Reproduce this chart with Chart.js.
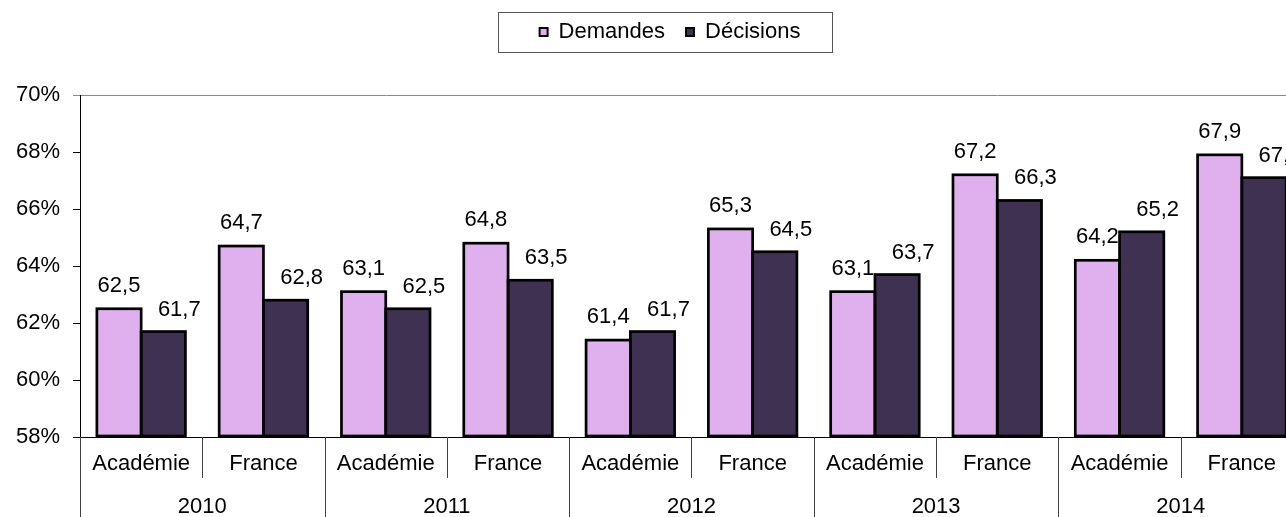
<!DOCTYPE html>
<html>
<head>
<meta charset="utf-8">
<script src="https://cdn.jsdelivr.net/npm/chart.js@4/dist/chart.umd.min.js"></script>
<style>
  html, body { margin: 0; padding: 0; background: #fff; overflow: hidden; }
  #wrap { width: 1340px; height: 517px; }
</style>
</head>
<body>
<div id="wrap"><canvas id="myChart" width="1340" height="517"></canvas></div>
<script>
const subLabels  = ['Académie', 'France', 'Académie', 'France', 'Académie', 'France', 'Académie', 'France', 'Académie', 'France'];
const yearLabels = ['2010', '2011', '2012', '2013', '2014'];
const demandes   = [62.5, 64.7, 63.1, 64.8, 61.4, 65.3, 63.1, 67.2, 64.2, 67.9];
const decisions  = [61.7, 62.8, 62.5, 63.5, 61.7, 64.5, 63.7, 66.3, 65.2, 67.1];

const FONT = '"Liberation Sans", Arial, sans-serif';
const pink = 'rgb(223,175,238)';
const dark = 'rgb(63,49,82)';

// value labels above bars, comma decimal like the original
const valueLabels = {
  id: 'valueLabels',
  afterDatasetsDraw(chart) {
    const ctx = chart.ctx;
    ctx.save();
    ctx.font = '22px ' + FONT;
    ctx.fillStyle = '#000';
    ctx.textAlign = 'center';
    ctx.textBaseline = 'alphabetic';
    chart.data.datasets.forEach((ds, di) => {
      const meta = chart.getDatasetMeta(di);
      const dx = di === 0 ? 0 : 16;
      const gap = di === 0 ? 17 : 16;
      meta.data.forEach((bar, i) => {
        const txt = ds.data[i].toFixed(1).replace('.', ',');
        ctx.fillText(txt, bar.x + dx, bar.y - gap);
      });
    });
    ctx.restore();
  }
};

// heavy outline around each bar (Excel style, shared middle edge)
const barOutline = {
  id: 'barOutline',
  afterDatasetsDraw(chart) {
    const ctx = chart.ctx;
    const bottom = chart.chartArea.bottom;
    ctx.save();
    ctx.strokeStyle = '#000';
    ctx.lineWidth = 2.7;
    chart.data.datasets.forEach((ds, di) => {
      chart.getDatasetMeta(di).data.forEach(bar => {
        const p = bar.getProps(['x', 'y', 'width'], true);
        ctx.strokeRect(p.x - p.width / 2, p.y, p.width, bottom - 1 - p.y);
      });
    });
    ctx.restore();
  }
};

// category separators under the axis + legend frame
const frames = {
  id: 'frames',
  afterDraw(chart) {
    const ctx = chart.ctx;
    const x = chart.scales.x;
    const bottom = chart.chartArea.bottom;
    const n = subLabels.length;
    const w = x.getPixelForValue(1) - x.getPixelForValue(0);
    ctx.save();
    ctx.strokeStyle = '#444';
    ctx.lineWidth = 1;
    for (let i = 0; i <= n; i++) {
      const xb = Math.round(x.getPixelForValue(0) - w / 2 + i * w) + 0.5;
      ctx.beginPath();
      ctx.moveTo(xb, bottom);
      ctx.lineTo(xb, i % 2 === 0 ? chart.height : bottom + 41);
      ctx.stroke();
    }
    const boxes = chart.legend.legendHitBoxes;
    if (boxes && boxes.length) {
      const first = boxes[0];
      const last = boxes[boxes.length - 1];
      const l = first.left - 42;
      const r = last.left + last.width + 31;
      ctx.strokeStyle = '#555';
      ctx.strokeRect(Math.round(l) + 0.5, 12.5, Math.round(r - l), 40);
    }
    ctx.restore();
  }
};

const ctx = document.getElementById('myChart');
new Chart(ctx, {
  type: 'bar',
  data: {
    labels: subLabels,
    datasets: [{
      label: 'Demandes',
      data: demandes,
      backgroundColor: pink,
      borderWidth: 0
    }, {
      label: 'Décisions',
      data: decisions,
      backgroundColor: dark,
      borderWidth: 0
    }]
  },
  options: {
    responsive: false,
    animation: false,
    categoryPercentage: 0.724,
    barPercentage: 1,
    layout: { padding: 0 },
    plugins: {
      tooltip: { enabled: false },
      legend: {
        position: 'top',
        labels: {
          boxWidth: 8,
          boxHeight: 8,
          padding: 21,
          color: '#000',
          font: { family: FONT, size: 22 },
          generateLabels: chart => chart.data.datasets.map((ds, i) => ({
            text: ds.label,
            fillStyle: ds.backgroundColor,
            strokeStyle: '#000',
            lineWidth: 2,
            datasetIndex: i
          }))
        }
      },
      subtitle: {
        display: true,
        text: '',
        weight: 500,
        font: { size: 10 },
        padding: { top: 30, bottom: 0 }
      }
    },
    scales: {
      x: {
        weight: 0,
        offset: true,
        grid: { display: false, drawTicks: false },
        border: { display: true, color: '#000', width: 1 },
        ticks: {
          color: '#000',
          font: { family: FONT, size: 22 },
          padding: 14,
          maxRotation: 0,
          autoSkip: false
        },
        afterFit: s => { s.height = 41; }
      },
      x2: {
        type: 'category',
        labels: yearLabels,
        position: 'bottom',
        weight: 1,
        offset: true,
        grid: { display: false, drawTicks: false },
        border: { display: false },
        ticks: {
          color: '#000',
          font: { family: FONT, size: 22 },
          padding: 16,
          maxRotation: 0
        },
        afterFit: s => { s.height = 39; }
      },
      y: {
        min: 58,
        max: 70,
        ticks: {
          stepSize: 2,
          color: '#000',
          padding: 13,
          font: { family: FONT, size: 22 },
          callback: v => v + '%'
        },
        grid: {
          tickLength: 7,
          color: c => c.tick && c.tick.value === 70 ? '#888' : 'rgba(0,0,0,0)',
          tickColor: c => c.tick && c.tick.value === 70 ? '#888' : '#000'
        },
        border: { display: true, color: '#000', width: 1 },
        afterFit: s => { s.width = 80; }
      },
      y2: {
        position: 'right',
        display: true,
        grid: { display: false, drawTicks: false },
        border: { display: false },
        ticks: { display: false },
        afterFit: s => { s.width = 37; }
      }
    }
  },
  plugins: [barOutline, valueLabels, frames]
});
</script>
</body>
</html>
